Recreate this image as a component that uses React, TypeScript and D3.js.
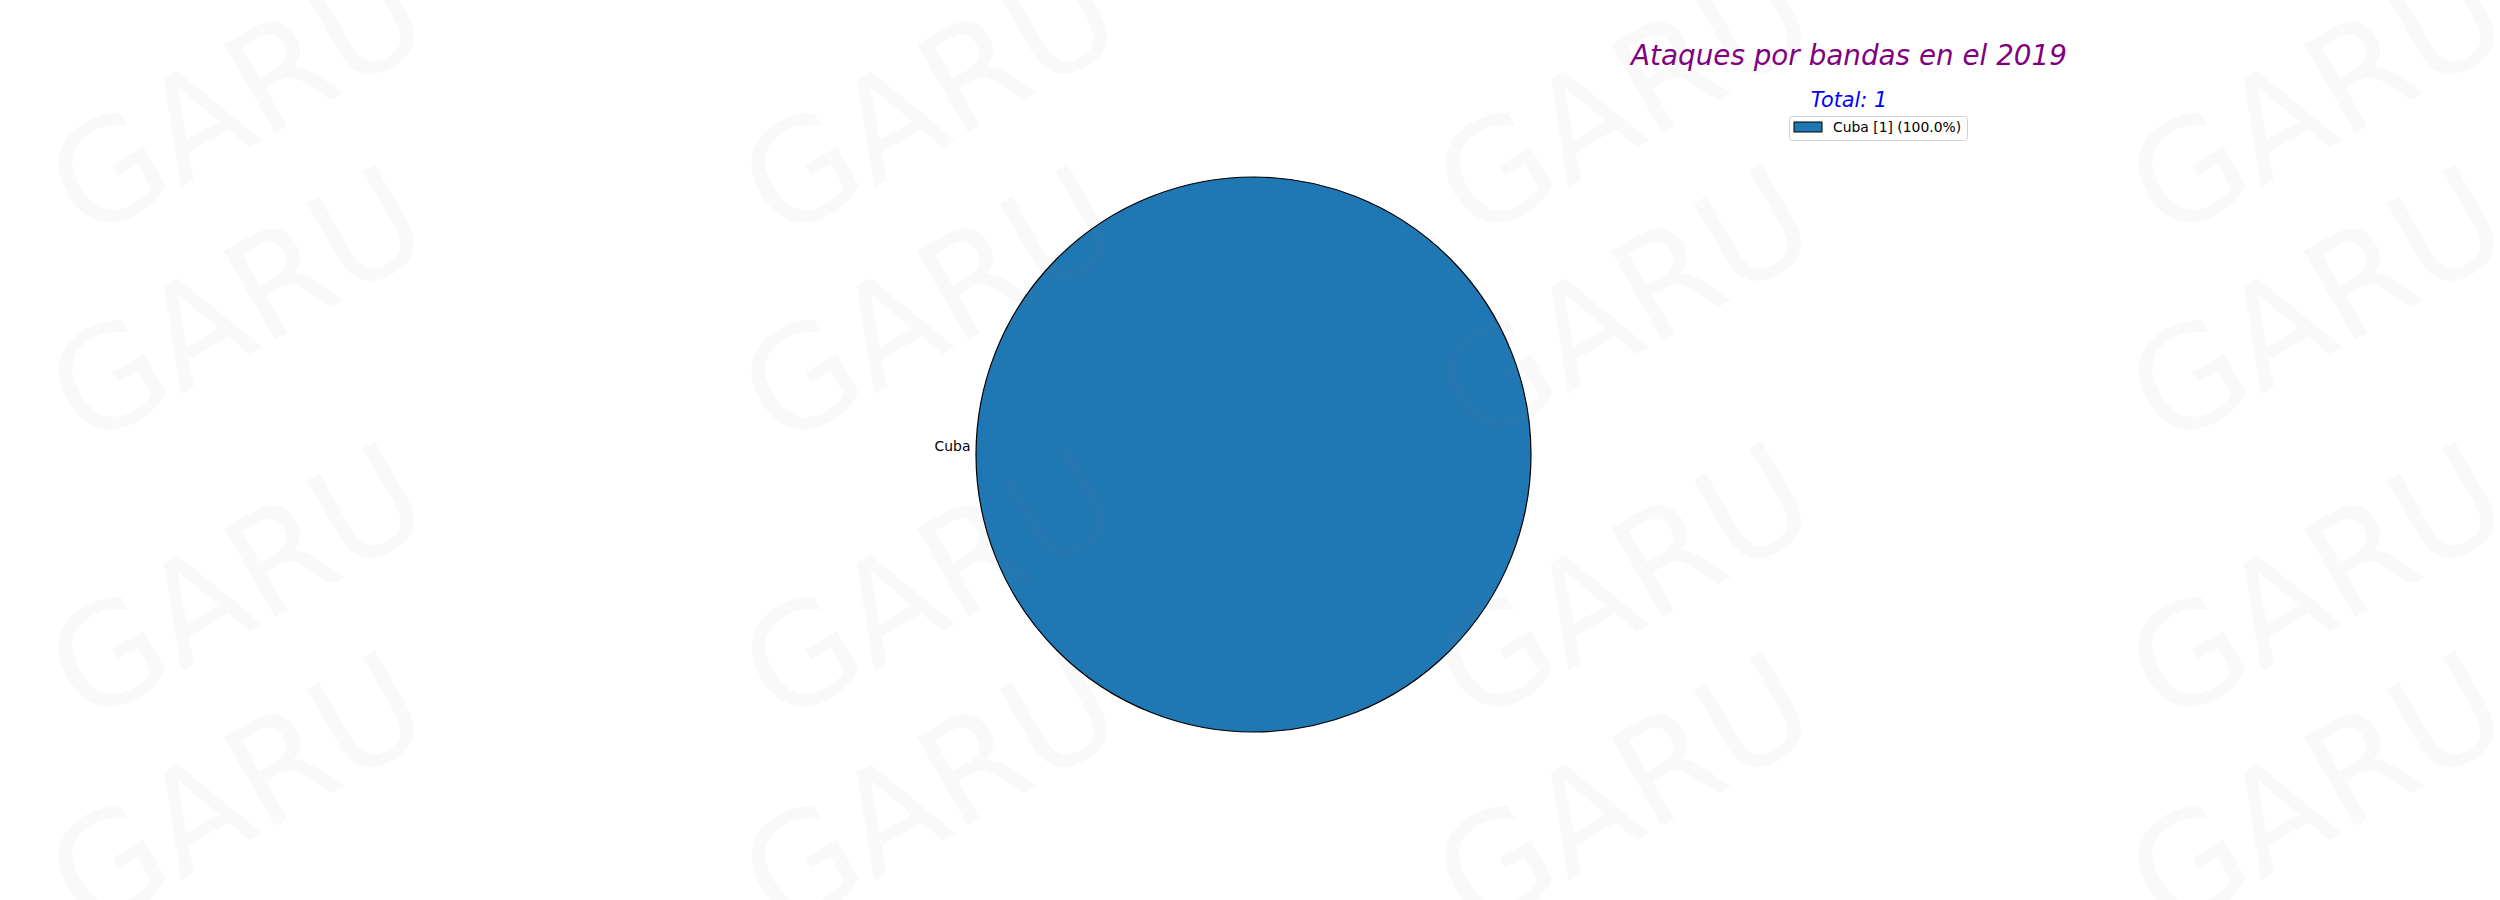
import * as d3 from "d3";
import { useEffect, useRef } from "react";

// Pie of attacks by band (single slice), matplotlib-style, with GARU watermark.
const categories = ["Cuba"];
const values = [1];
const colors = ["#1f77b4"];
const titleText = "Ataques por bandas en el 2019";
const watermarkText = "GARU";

const W = 2500;
const H = 900;
const FONT = "'DejaVu Sans', sans-serif";

export default function App() {
  const svgRef = useRef<SVGSVGElement>(null);

  useEffect(() => {
    if (!svgRef.current) return;
    const svg = d3.select(svgRef.current);
    svg.selectAll("*").remove();

    svg.append("rect").attr("width", W).attr("height", H).attr("fill", "#ffffff");

    const total = d3.sum(values);
    const data = categories.map((c, i) => ({ name: c, value: values[i], color: colors[i] }));

    const cx = 1253.5;
    const cy = 454.5;
    const r = 277.5;

    // matplotlib: start at 3 o'clock, counter-clockwise
    const pie = d3
      .pie<{ name: string; value: number; color: string }>()
      .value((d) => d.value)
      .sort(null)
      .startAngle(Math.PI / 2)
      .endAngle(Math.PI / 2 - 2 * Math.PI);
    const arcs = pie(data);
    const arc = d3
      .arc<d3.PieArcDatum<{ name: string; value: number; color: string }>>()
      .innerRadius(0)
      .outerRadius(r);

    const g = svg.append("g").attr("transform", `translate(${cx},${cy})`);
    g.selectAll("path.slice")
      .data(arcs)
      .enter()
      .append("path")
      .attr("class", "slice")
      .attr("d", (d) => arc(d) as string)
      .attr("fill", (d) => d.data.color)
      .attr("stroke", "#000000")
      .attr("stroke-width", 1.2);

    // slice labels just outside the rim
    const ld = 1.02;
    g.selectAll("text.lbl")
      .data(arcs)
      .enter()
      .append("text")
      .attr("class", "lbl")
      .attr("x", (d) => Math.sin((d.startAngle + d.endAngle) / 2) * r * ld)
      .attr("y", (d) => -Math.cos((d.startAngle + d.endAngle) / 2) * r * ld - 3.5)
      .attr("text-anchor", (d) =>
        Math.sin((d.startAngle + d.endAngle) / 2) < 0 ? "end" : "start",
      )
      .attr("font-family", FONT)
      .attr("font-size", 13.9)
      .attr("fill", "#000000")
      .text((d) => d.data.name);

    // title + total
    svg
      .append("text")
      .attr("x", 1849)
      .attr("y", 65)
      .attr("text-anchor", "middle")
      .attr("font-family", FONT)
      .attr("font-style", "italic")
      .attr("font-size", 27.8)
      .attr("fill", "#800080")
      .text(titleText);
    svg
      .append("text")
      .attr("x", 1849)
      .attr("y", 107)
      .attr("text-anchor", "middle")
      .attr("font-family", FONT)
      .attr("font-style", "italic")
      .attr("font-size", 20.8)
      .attr("fill", "#0000ff")
      .text(`Total: ${total}`);

    // legend
    const lg = svg.append("g").attr("transform", "translate(1789,116)");
    lg.append("rect")
      .attr("x", 0.5)
      .attr("y", 0.5)
      .attr("width", 178)
      .attr("height", 24)
      .attr("rx", 3)
      .attr("fill", "#ffffff")
      .attr("fill-opacity", 0.8)
      .attr("stroke", "#d0d0d0");
    data.forEach((d, i) => {
      const row = lg.append("g").attr("transform", `translate(0,${i * 20})`);
      row
        .append("rect")
        .attr("x", 5)
        .attr("y", 6)
        .attr("width", 28)
        .attr("height", 10)
        .attr("fill", d.color)
        .attr("stroke", "#000000")
        .attr("stroke-width", 1);
      row
        .append("text")
        .attr("x", 44)
        .attr("y", 16)
        .attr("font-family", FONT)
        .attr("font-size", 13.9)
        .attr("fill", "#000000")
        .text(`${d.name} [${d.value}] (${((d.value / total) * 100).toFixed(1)}%)`);
    });

    // watermark grid, on top of everything
    const wmX = [236, 929, 1623, 2316];
    const wmY = [97, 304, 581, 790];
    const wm = svg.append("g").attr("pointer-events", "none");
    wmX.forEach((x) =>
      wmY.forEach((y) => {
        wm.append("text")
          .attr("transform", `translate(${x},${y}) rotate(-30)`)
          .attr("text-anchor", "middle")
          .attr("dy", "0.36em")
          .attr("font-family", FONT)
          .attr("font-size", 140)
          .attr("fill", "#808080")
          .attr("fill-opacity", 0.05)
          .text(watermarkText);
      }),
    );
  }, []);

  return (
    <svg
      ref={svgRef}
      width={W}
      height={H}
      style={{ position: "absolute", left: 0, top: 0, display: "block" }}
    />
  );
}
